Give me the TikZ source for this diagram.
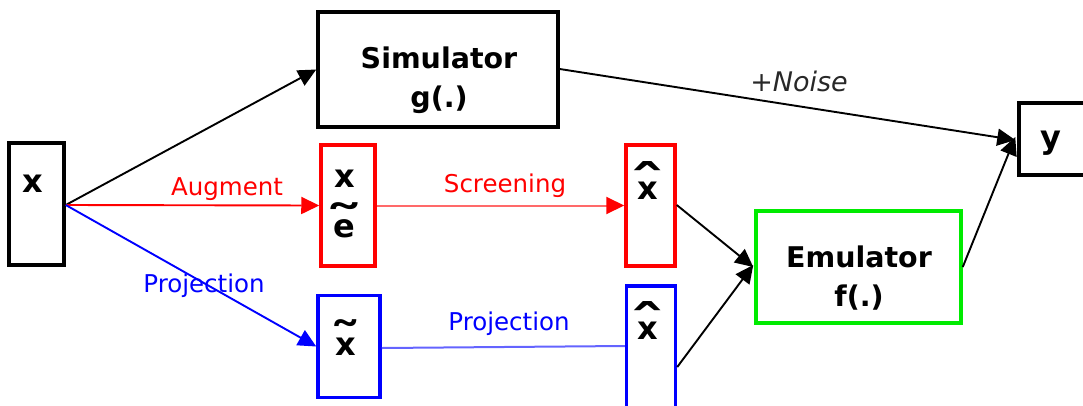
\documentclass[tikz,border=0pt]{standalone}
\usepackage{fontspec}
\usepackage{graphicx}
\setmainfont{DejaVu Sans}
\usetikzlibrary{arrows.meta}
\definecolor{lightred}{RGB}{255,105,105}
\definecolor{lightblue}{RGB}{100,100,255}
\definecolor{noisegray}{RGB}{40,40,40}
\definecolor{emgreen}{RGB}{0,235,0}
\newcommand\accx[4]{\ooalign{#1\cr\hidewidth\raisebox{#3}{\fontsize{50}{50}\selectfont\scalebox{#4}[1]{#2}}\hidewidth\cr}}
\tikzset{
  blk/.style={draw, rectangle, line width=3.5pt, inner sep=0pt},
  sym/.style={font=\fontsize{32}{32}\selectfont\bfseries, anchor=base, inner sep=0pt},
  btxt/.style={font=\fontsize{28.5}{28.5}\selectfont\bfseries, anchor=base, inner sep=0pt},
  lbl/.style={font=\fontsize{24.5}{24.5}\selectfont, anchor=base, inner sep=0pt},
  tip/.style={-{Triangle[length=18pt,width=17pt,#1]}},
  arr/.style={line width=1.9pt, tip={}},
}
\begin{document}
\begin{tikzpicture}[x=1pt,y=-1pt]
\useasboundingbox (0,0) rectangle (1083,405);
\clip (0,0) rectangle (1083,405);
% boxes
\node[blk, minimum width=55pt, minimum height=122pt] (xin) at (36.5,204) {};
\node[blk, minimum width=240pt, minimum height=115pt] (sim) at (438,69.5) {};
\node[blk, draw=red, minimum width=54pt, minimum height=121pt] (rbox) at (348,205.5) {};
\node[blk, draw=red, minimum width=49pt, minimum height=121pt] (rhat) at (650.5,205.5) {};
\node[blk, draw=blue, minimum width=62pt, minimum height=102pt] (bbox) at (349,346.5) {};
\node[blk, draw=blue, minimum width=49pt, minimum height=140pt] (bhat) at (651,356) {};
\node[blk, draw=emgreen, minimum width=205pt, minimum height=112pt] (emu) at (858.5,267) {};
\node[blk, minimum width=80pt, minimum height=72pt] (ybox) at (1059,139) {};
% texts in boxes
\node[sym] (tx) at (33,192) {x};
\node[sym] (trx) at (345,187) {x};
\node[sym] (tre) at (344,237) {\accx{e}{˜}{-4.5pt}{1.6}};
\node[sym] (tbx) at (346,355) {\accx{x}{˜}{-3pt}{1.3}};
\node[sym] (trh) at (648,199) {\accx{x}{ˆ}{-2pt}{1.45}};
\node[sym] (tbh) at (648,339) {\accx{x}{ˆ}{-2pt}{1.45}};
\node[sym] (ty) at (1051,148) {y};
\node[btxt] (tsim1) at (439,68) {Simulator};
\node[btxt] (tsim2) at (439,107) {g(.)};
\node[btxt] (temu1) at (859,267) {Emulator};
\node[btxt] (temu2) at (859,306) {f(.)};
% connectors
\coordinate (xo) at ([yshift=-1pt]xin.east);
\draw[arr] (xo) -- (sim.west);
\draw[arr, red] (xo) -- (rbox.west);
\draw[arr, blue] (xo) -- (bbox.west);
\draw[line width=2pt, lightred, tip={color=red}] (rbox.east) -- (rhat.west);
\draw[line width=2pt, lightblue] ([yshift=-1.5pt]bbox.east) -- ([yshift=0.5pt]bbox.east -| bhat.west);
\draw[arr] ([yshift=0.5pt]rhat.east) -- ([xshift=-1pt]emu.west);
\draw[arr] ([yshift=-11pt]bhat.east) -- ([xshift=-1pt,yshift=2pt]emu.west);
\draw[arr] ([yshift=0.5pt]sim.east) -- ([xshift=-2pt,yshift=-1pt]ybox.west);
\draw[arr] (emu.east) -- ([xshift=-2pt,yshift=2pt]ybox.west);
% labels
\node[lbl, red] (lAug) at (227,195) {Augment};
\node[lbl, blue] (lProj1) at (204,292) {Projection};
\node[lbl, red] (lScr) at (505,192) {Screening};
\node[lbl, blue] (lProj2) at (509,330) {Projection};
\node[lbl, noisegray, font=\fontsize{27}{27}\selectfont\itshape] (lNoise) at (799,91) {+Noise};
\end{tikzpicture}
\end{document}
